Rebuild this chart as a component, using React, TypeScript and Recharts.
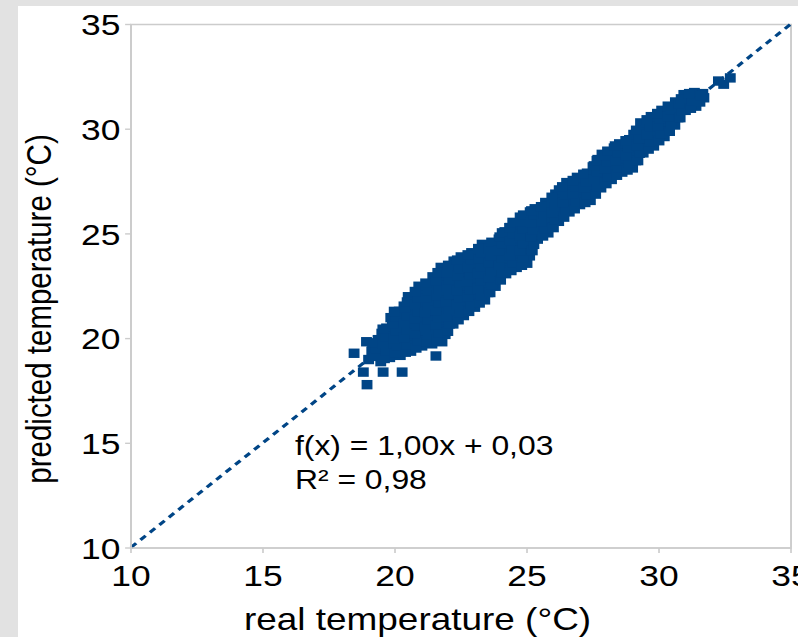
import React from 'react';
import {
  ScatterChart, Scatter, XAxis, YAxis, ReferenceLine, ReferenceArea, Label,
} from 'recharts';

const realTemp: number[] = [
  19.0, 19.12, 18.92,
  19.46, 19.32, 19.52, 19.36, 19.5,
  19.8, 19.92, 19.72, 19.86, 19.68, 19.9, 19.84,
  20.2, 20.32, 20.12, 20.26, 20.08, 20.3, 20.16, 20.34,
  20.6, 20.72, 20.52, 20.66, 20.48, 20.7, 20.56, 20.74, 20.5,
  21.02, 21.12, 20.92, 21.06, 20.88, 21.1, 20.96, 21.14, 20.9,
  21.4, 21.52, 21.32, 21.46, 21.28, 21.5, 21.36, 21.54, 21.3, 21.43,
  21.78, 21.9, 21.7, 21.84, 21.66, 21.88, 21.74, 21.92, 21.68, 21.81, 21.74,
  22.2, 22.32, 22.12, 22.26, 22.08, 22.3, 22.16, 22.34, 22.1, 22.23,
  22.6, 22.72, 22.52, 22.66, 22.48, 22.7, 22.56, 22.74, 22.5,
  23.02, 23.12, 22.92, 23.06, 22.88, 23.1, 22.96, 23.14, 22.9,
  23.4, 23.52, 23.32, 23.46, 23.28, 23.5, 23.36, 23.54, 23.3,
  23.8, 23.92, 23.72, 23.86, 23.68, 23.9, 23.76, 23.94,
  24.2, 24.32, 24.12, 24.26, 24.08, 24.3, 24.16, 24.34,
  24.6, 24.72, 24.52, 24.66, 24.48, 24.7, 24.56, 24.74,
  25.0, 25.1, 24.92, 25.06, 24.88, 25.1, 24.96, 25.12,
  25.4, 25.52, 25.32, 25.46, 25.3,
  25.8, 25.92, 25.72, 25.86, 25.7,
  26.2, 26.32, 26.12, 26.26, 26.08, 26.22,
  26.6, 26.72, 26.52, 26.66, 26.5,
  27.0, 27.12, 26.92, 27.06, 26.9,
  27.4, 27.52, 27.32, 27.46, 27.28, 27.5,
  27.8, 27.92, 27.72, 27.86, 27.68, 27.84,
  28.2, 28.32, 28.12, 28.26, 28.08, 28.3,
  28.6, 28.72, 28.52, 28.66, 28.5,
  29.0, 29.12, 28.92, 29.06, 28.88, 29.04,
  29.4, 29.52, 29.32, 29.46, 29.3,
  29.8, 29.92, 29.72, 29.86, 29.7,
  30.2, 30.32, 30.12, 30.26, 30.1,
  30.6, 30.72, 30.52, 30.62,
  31.0, 31.1, 30.94,
  31.4, 31.5, 31.34,
  31.7, 31.66,
  32.25, 32.45, 32.7,
  18.45, 18.8, 18.94, 19.55, 20.27, 21.55,
];

const predictedTemp: number[] = [
  19.0, 19.4, 19.85,
  18.9, 19.25, 19.6, 19.95, 20.25,
  19.1, 19.45, 19.8, 20.15, 20.5, 20.8, 21.0,
  19.2, 19.55, 19.9, 20.25, 20.6, 20.95, 21.3, 21.55,
  19.4, 19.75, 20.1, 20.45, 20.8, 21.15, 21.5, 21.8, 22.0,
  19.65, 20.0, 20.35, 20.7, 21.05, 21.4, 21.75, 22.1, 22.5,
  19.75, 20.1, 20.45, 20.8, 21.15, 21.5, 21.85, 22.2, 22.6, 22.95,
  19.85, 20.2, 20.55, 20.9, 21.25, 21.6, 21.95, 22.3, 22.65, 23.0, 23.4,
  20.7, 21.05, 21.4, 21.75, 22.1, 22.45, 22.8, 23.15, 23.45, 23.7,
  21.1, 21.45, 21.8, 22.15, 22.5, 22.85, 23.2, 23.55, 23.9,
  21.5, 21.85, 22.2, 22.55, 22.9, 23.25, 23.6, 23.9, 24.1,
  21.85, 22.2, 22.55, 22.9, 23.25, 23.6, 23.95, 24.25, 24.5,
  22.5, 22.85, 23.2, 23.55, 23.9, 24.25, 24.5, 24.75,
  23.1, 23.45, 23.8, 24.15, 24.5, 24.85, 25.1, 25.3,
  23.4, 23.75, 24.1, 24.45, 24.8, 25.15, 25.5, 25.8,
  23.6, 23.95, 24.3, 24.65, 25.0, 25.35, 25.7, 26.05,
  24.75, 25.1, 25.45, 25.8, 26.2,
  25.05, 25.4, 25.75, 26.1, 26.5,
  25.6, 25.95, 26.3, 26.65, 26.9, 27.1,
  26.05, 26.4, 26.75, 27.1, 27.45,
  26.4, 26.75, 27.1, 27.4, 27.7,
  26.6, 26.95, 27.3, 27.6, 27.9, 28.2,
  27.2, 27.55, 27.9, 28.25, 28.55, 28.8,
  27.6, 27.95, 28.3, 28.65, 28.9, 29.1,
  27.95, 28.3, 28.65, 29.0, 29.3,
  28.15, 28.5, 28.85, 29.2, 29.5, 29.75,
  28.87, 29.2, 29.55, 29.9, 30.3,
  29.2, 29.55, 29.9, 30.25, 30.6,
  29.65, 30.0, 30.35, 30.65, 30.9,
  30.2, 30.55, 30.9, 31.3,
  30.9, 31.25, 31.65,
  31.1, 31.45, 31.75,
  31.5, 31.7,
  32.3, 32.15, 32.45,
  19.3, 18.4, 17.8, 18.4, 18.4, 19.17,
];

// points sitting between the columns above, where the cloud is solid
const fillReal: number[] = [
  19.2, 19.26, 19.15,
  19.6, 19.66, 19.55, 19.64, 19.54,
  20.0, 20.06, 19.95, 20.04, 19.94, 20.05, 19.97,
  20.4, 20.46, 20.35, 20.44, 20.34, 20.45, 20.37, 20.46,
  20.8, 20.86, 20.75, 20.84, 20.74, 20.85, 20.77, 20.86, 20.76,
  21.2, 21.26, 21.15, 21.24, 21.14, 21.25, 21.17, 21.26, 21.16,
  21.6, 21.66, 21.55, 21.64, 21.54, 21.65, 21.57, 21.66, 21.56, 21.62,
  22.0, 22.06, 21.95, 22.04, 21.94, 22.05, 21.97, 22.06, 21.96, 22.02,
  22.4, 22.46, 22.35, 22.44, 22.34, 22.45, 22.37, 22.46, 22.36,
  22.8, 22.86, 22.75, 22.84, 22.74, 22.85, 22.77, 22.86, 22.76,
  23.2, 23.26, 23.15, 23.24, 23.14, 23.25, 23.17, 23.26, 23.16,
  23.6, 23.66, 23.55, 23.64, 23.54, 23.65, 23.57, 23.66,
  24.0, 24.06, 23.95, 24.04, 23.94, 24.05, 23.97, 24.06,
  24.4, 24.46, 24.35, 24.44, 24.34, 24.45, 24.37, 24.46,
  24.8, 24.86, 24.75, 24.84, 24.74, 24.85, 24.77, 24.86,
  25.2, 25.26, 25.15, 25.24, 25.14, 25.25, 25.17,
  25.6, 25.66, 25.55, 25.64, 25.54,
  26.0, 26.06, 25.95, 26.04, 25.94,
  26.4, 26.46, 26.35, 26.44, 26.34,
  26.8, 26.86, 26.75, 26.84, 26.74,
  27.2, 27.26, 27.15, 27.24, 27.14,
  27.6, 27.66, 27.55, 27.64, 27.54, 27.65,
  28.0, 28.06, 27.95, 28.04, 27.94, 28.05,
  28.4, 28.46, 28.35, 28.44, 28.34,
  28.8, 28.86, 28.75, 28.84, 28.74,
  29.2, 29.26, 29.15, 29.24, 29.14,
  29.6, 29.66, 29.55, 29.64, 29.54,
  30.0, 30.06, 29.95, 30.04, 29.94,
  30.4, 30.46, 30.35, 30.44, 30.34,
  30.8, 30.86, 30.75, 30.84,
  31.2, 31.26, 31.15,
  31.55, 31.6,
];

const fillPred: number[] = [
  19.15, 19.5, 19.8,
  19.05, 19.4, 19.75, 20.1, 20.45,
  19.3, 19.65, 20.0, 20.35, 20.7, 21.05, 21.3,
  19.35, 19.7, 20.05, 20.4, 20.75, 21.1, 21.45, 21.75,
  19.55, 19.9, 20.25, 20.6, 20.95, 21.3, 21.65, 21.95, 22.25,
  19.85, 20.2, 20.55, 20.9, 21.25, 21.6, 21.95, 22.3, 22.65,
  19.95, 20.3, 20.65, 21.0, 21.35, 21.7, 22.05, 22.4, 22.75, 23.15,
  20.35, 20.7, 21.05, 21.4, 21.75, 22.1, 22.45, 22.8, 23.15, 23.5,
  20.9, 21.25, 21.6, 21.95, 22.3, 22.65, 23.0, 23.35, 23.75,
  21.3, 21.65, 22.0, 22.35, 22.7, 23.05, 23.4, 23.75, 24.0,
  21.7, 22.05, 22.4, 22.75, 23.1, 23.45, 23.8, 24.1, 24.3,
  22.2, 22.55, 22.9, 23.25, 23.6, 23.95, 24.3, 24.6,
  22.8, 23.15, 23.5, 23.85, 24.2, 24.55, 24.85, 25.05,
  23.25, 23.6, 23.95, 24.3, 24.65, 25.0, 25.3, 25.55,
  23.5, 23.85, 24.2, 24.55, 24.9, 25.25, 25.6, 25.9,
  24.2, 24.5, 24.85, 25.2, 25.55, 25.9, 26.1,
  24.9, 25.25, 25.6, 25.95, 26.3,
  25.3, 25.65, 26.0, 26.35, 26.75,
  25.8, 26.15, 26.5, 26.85, 27.25,
  26.2, 26.55, 26.9, 27.25, 27.55,
  26.5, 26.85, 27.2, 27.5, 27.85,
  26.9, 27.25, 27.6, 27.95, 28.25, 28.5,
  27.4, 27.75, 28.1, 28.45, 28.75, 28.95,
  27.8, 28.15, 28.5, 28.85, 29.2,
  28.05, 28.4, 28.75, 29.1, 29.45,
  28.5, 28.85, 29.2, 29.55, 29.95,
  29.05, 29.4, 29.75, 30.1, 30.45,
  29.45, 29.8, 30.15, 30.5, 30.75,
  29.9, 30.25, 30.6, 30.95, 31.1,
  30.55, 30.9, 31.2, 31.45,
  31.0, 31.35, 31.7,
  31.3, 31.6,
];

const axisTicks = [10, 15, 20, 25, 30, 35];
const trendSlope = 1.0;
const trendIntercept = 0.03;
const trendText = 'f(x) = 1,00x + 0,03';
const r2Text = 'R² = 0,98';

const points = [
  ...realTemp.map((x, i) => ({ x, y: predictedTemp[i] })),
  ...fillReal.map((x, i) => ({ x, y: fillPred[i] })),
];
const trendAt = (x: number) => trendSlope * x + trendIntercept;

// the reference is stretched horizontally, so draw narrower and scale
const SX = 1.18;
const FONT = '"Liberation Sans", Arial, sans-serif';
const BLUE = '#004586';
const FRAME = '#cccccc';

const tickStyle = { fill: '#000', fontSize: 30, fontFamily: FONT };

const SquareDot = (props: any) => {
  const { cx, cy } = props;
  if (cx == null || cy == null) return null;
  return <rect x={cx - 4.6} y={cy - 4.7} width={9.2} height={9.4} fill={BLUE} />;
};

const App: React.FC = () => {
  return (
    <div style={{ position: 'absolute', left: 0, top: 0, width: 798, height: 637, background: '#e2e2e2', overflow: 'hidden' }}>
      <div style={{ position: 'absolute', left: 18, top: 6, width: 780, height: 631, background: '#fff', overflow: 'hidden' }}>
        <div style={{ width: 661, height: 631, transform: `scaleX(${SX})`, transformOrigin: '0 0' }}>
          <ScatterChart width={661} height={631} margin={{ top: 18.5, right: 5.9, bottom: 0, left: 0 }}>
            <ReferenceArea x1={10} x2={35} y1={10} y2={35} fill="none" stroke={FRAME} strokeWidth={1.6} ifOverflow="visible" />
            <XAxis
              type="number"
              dataKey="x"
              domain={[10, 35]}
              ticks={axisTicks}
              interval={0}
              height={89}
              tickSize={5}
              tickMargin={12}
              tick={tickStyle}
              axisLine={{ stroke: FRAME, strokeWidth: 1.6 }}
              tickLine={{ stroke: FRAME, strokeWidth: 1.4 }}
            >
              <Label
                content={() => (
                  <text x={338.6} y={624} textAnchor="middle" fontSize={31.3} fontFamily={FONT} fill="#000">
                    real temperature (°C)
                  </text>
                )}
              />
            </XAxis>
            <YAxis
              type="number"
              dataKey="y"
              domain={[10, 35]}
              ticks={axisTicks}
              interval={0}
              width={95.76}
              tickSize={5}
              tickMargin={4}
              tick={tickStyle}
              axisLine={{ stroke: FRAME, strokeWidth: 1.6 }}
              tickLine={{ stroke: FRAME, strokeWidth: 1.4 }}
            >
              <Label
                content={() => (
                  <text
                    x={27.6}
                    y={303}
                    transform="rotate(-90 27.6 303)"
                    textAnchor="middle"
                    fontSize={29.5}
                    fontFamily={FONT}
                    fill="#000"
                  >
                    predicted temperature (°C)
                  </text>
                )}
              />
            </YAxis>
            <Scatter data={points} shape={SquareDot} fill={BLUE} isAnimationActive={false} />
            <ReferenceLine
              segment={[{ x: 10, y: trendAt(10) }, { x: 35, y: trendAt(35) }]}
              stroke={BLUE}
              strokeWidth={3}
              strokeDasharray="6 5"
              ifOverflow="visible"
            >
              <Label
                content={() => (
                  <text x={234.7} fontSize={27} fontFamily={FONT} fill="#000">
                    <tspan x={234.7} y={449}>{trendText}</tspan>
                    <tspan x={234.7} y={483.5}>{r2Text}</tspan>
                  </text>
                )}
              />
            </ReferenceLine>
          </ScatterChart>
        </div>
      </div>
    </div>
  );
};

export default App;
